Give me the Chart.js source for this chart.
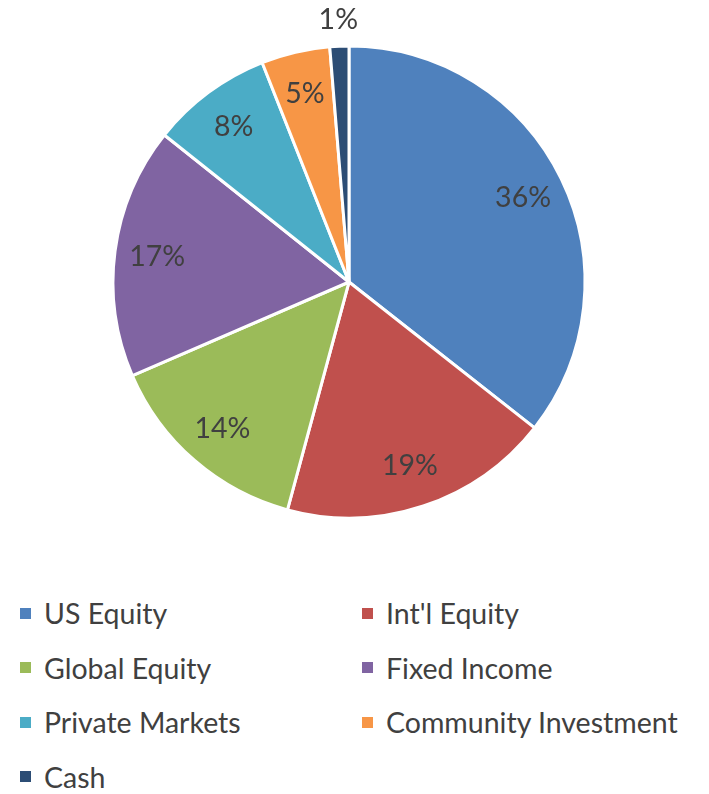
<!DOCTYPE html>
<html lang="en">
<head>
  <meta charset="UTF-8" />
  <title>Asset Allocation</title>
  <script src="https://cdn.jsdelivr.net/npm/chart.js"></script>
  <style>
    html, body { margin: 0; padding: 0; background: #fff; }
    body { width: 709px; height: 794px; position: relative; overflow: hidden; font-family: Lato, "Open Sans", sans-serif; }
    .chart-box { position: absolute; left: 0; top: 0; width: 709px; height: 560px; }
    .legend { position: absolute; left: 20px; top: 586px; display: grid; grid-template-columns: 342px 340px; row-gap: 0; }
    .legend-item { display: flex; align-items: center; height: 54.5px; color: #404040; font-size: 28.5px; white-space: nowrap; }
    .legend-item .swatch { width: 11px; height: 11px; margin-right: 13px; flex: none; }
  </style>
</head>
<body>
  <div class="chart-box">
    <canvas id="allocationChart" width="709" height="560"></canvas>
  </div>
  <div class="legend" id="legend"></div>

  <script>
    const categories = ['US Equity', "Int'l Equity", 'Global Equity', 'Fixed Income', 'Private Markets', 'Community Investment', 'Cash'];
    const shares = [35.6, 18.6, 14.3, 17.2, 8.3, 4.7, 1.3];
    const colors = ['#4F81BD', '#C0504D', '#9BBB59', '#8064A2', '#4BACC6', '#F79646', '#2C4D75'];

    // percentage labels, small slices go outside the pie
    const sliceLabels = {
      id: 'sliceLabels',
      afterDatasetsDraw(chart) {
        const ctx = chart.ctx;
        const meta = chart.getDatasetMeta(0);
        const total = shares.reduce((a, b) => a + b, 0);
        ctx.save();
        ctx.font = '28.5px Lato, "Open Sans", sans-serif';
        ctx.fillStyle = '#404040';
        ctx.textAlign = 'center';
        ctx.textBaseline = 'middle';
        meta.data.forEach((arc, i) => {
          const p = arc.getProps(['x', 'y', 'startAngle', 'endAngle', 'outerRadius'], true);
          const mid = (p.startAngle + p.endAngle) / 2;
          const pct = shares[i] / total * 100;
          const r = pct < 3 ? p.outerRadius * 1.11 : p.outerRadius * 0.82;
          ctx.fillText(Math.round(pct) + '%', p.x + Math.cos(mid) * r, p.y + Math.sin(mid) * r);
        });
        ctx.restore();
      }
    };

    const ctx = document.getElementById('allocationChart').getContext('2d');
    const allocationChart = new Chart(ctx, {
      type: 'pie',
      data: {
        labels: categories,
        datasets: [{
          data: shares,
          backgroundColor: colors,
          borderColor: '#ffffff',
          borderWidth: 3
        }]
      },
      options: {
        responsive: false,
        animation: false,
        radius: 236,
        layout: { padding: { left: 0, right: 11, top: 30, bottom: 26 } },
        plugins: {
          legend: { display: false },
          tooltip: { enabled: false }
        }
      },
      plugins: [sliceLabels]
    });

    // legend in two columns
    const legendEl = document.getElementById('legend');
    categories.forEach((name, i) => {
      const item = document.createElement('div');
      item.className = 'legend-item';
      item.innerHTML = '<span class="swatch" style="background:' + colors[i] + '"></span><span>' + name + '</span>';
      legendEl.appendChild(item);
    });
  </script>
</body>
</html>
